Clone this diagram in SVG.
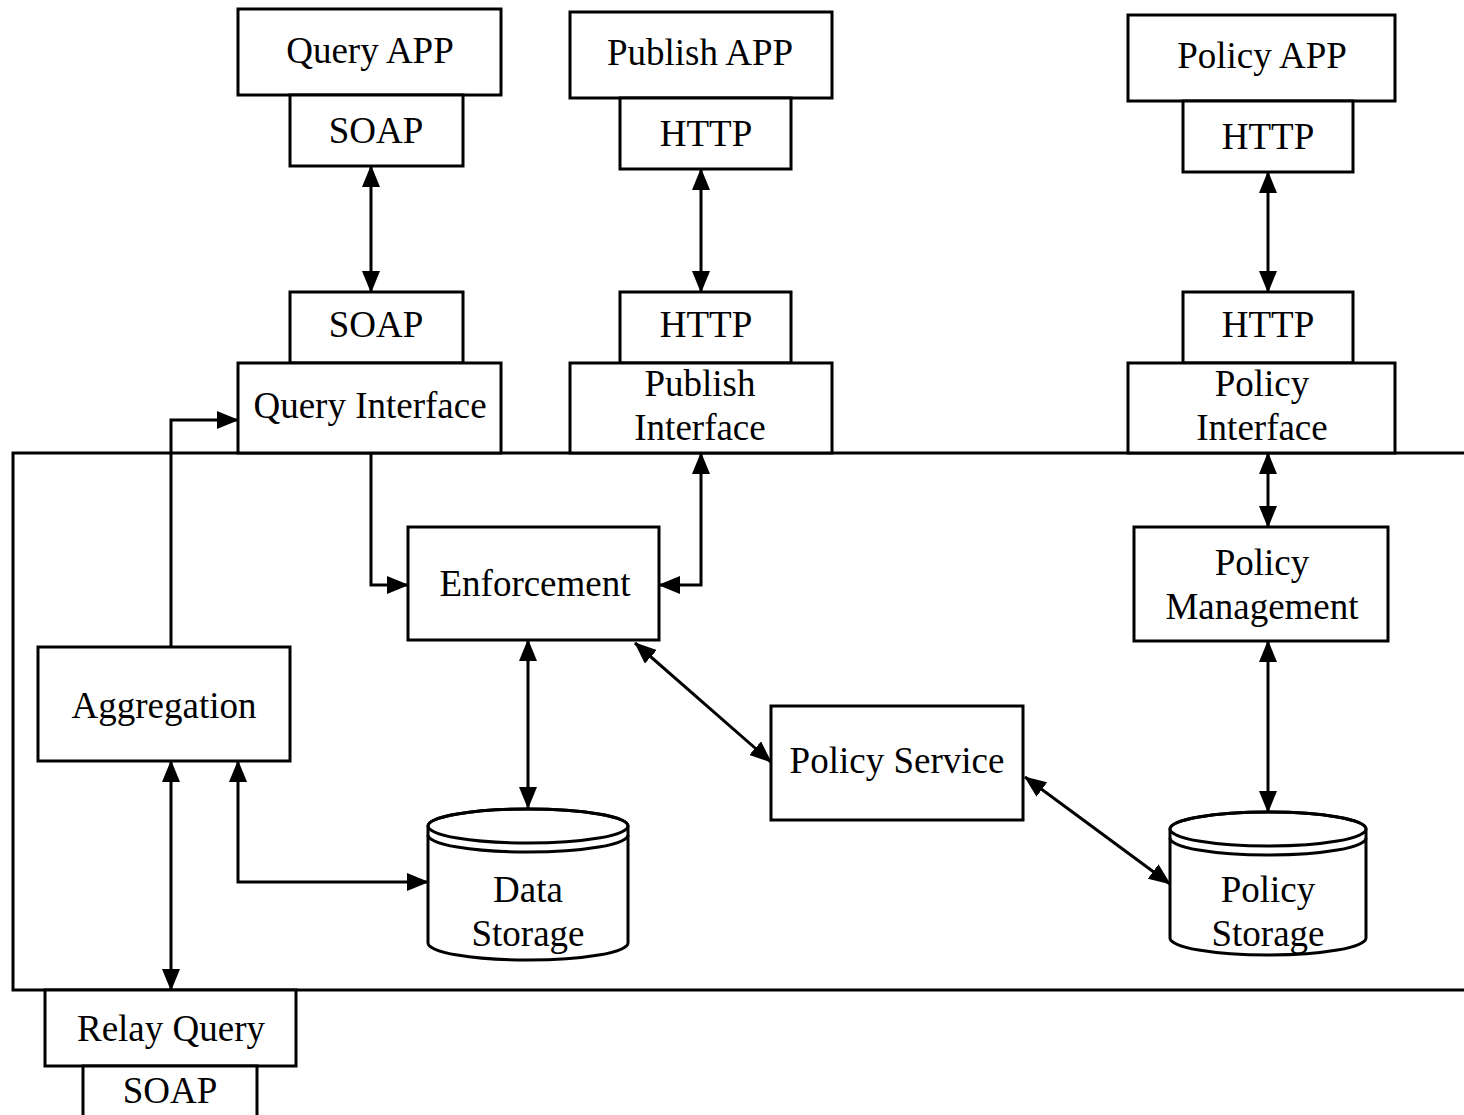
<svg xmlns="http://www.w3.org/2000/svg" width="1464" height="1115" viewBox="0 0 1464 1115">
<style>
.box{fill:#fff;stroke:#000;stroke-width:3}
.cyl{fill:#fff;stroke:#000;stroke-width:3}
.cl{fill:none;stroke:#000;stroke-width:3}
text{font-family:"Liberation Serif","Times New Roman",serif;font-size:37px;fill:#000;text-anchor:middle}
.con{fill:none;stroke:#000;stroke-width:3;marker-end:url(#ah)}
.bi{marker-start:url(#ah)}
</style>
<defs>
<marker id="ah" markerUnits="userSpaceOnUse" markerWidth="22" markerHeight="18" refX="21" refY="9" orient="auto-start-reverse" viewBox="0 0 22 18">
<path d="M0,0 L22,9 L0,18 z" fill="#000"/>
</marker>
</defs>
<rect width="1464" height="1115" fill="#fff"/>
<g id="frame"><path class="cl" d="M1466,453 H13 V990 H1466"/></g>
<g id="query-app"><rect class="box" x="238" y="9" width="263" height="86"/><text x="370" y="63">Query APP</text></g>
<g id="query-soap-top"><rect class="box" x="290" y="95" width="173" height="71"/><text x="376" y="143">SOAP</text></g>
<g id="publish-app"><rect class="box" x="570" y="12" width="262" height="86"/><text x="700" y="65">Publish APP</text></g>
<g id="publish-http-top"><rect class="box" x="620" y="98" width="171" height="71"/><text x="706" y="146">HTTP</text></g>
<g id="policy-app"><rect class="box" x="1128" y="15" width="267" height="86"/><text x="1262" y="68">Policy APP</text></g>
<g id="policy-http-top"><rect class="box" x="1183" y="101" width="170" height="71"/><text x="1268" y="149">HTTP</text></g>
<g id="query-soap"><rect class="box" x="290" y="292" width="173" height="71"/><text x="376" y="337">SOAP</text></g>
<g id="query-interface"><rect class="box" x="238" y="363" width="263" height="90"/><text x="370" y="418">Query Interface</text></g>
<g id="publish-http"><rect class="box" x="620" y="292" width="171" height="71"/><text x="706" y="337">HTTP</text></g>
<g id="publish-interface"><rect class="box" x="570" y="363" width="262" height="90"/><text x="700" y="396">Publish</text><text x="700" y="440">Interface</text></g>
<g id="policy-http"><rect class="box" x="1183" y="292" width="170" height="71"/><text x="1268" y="337">HTTP</text></g>
<g id="policy-interface"><rect class="box" x="1128" y="363" width="267" height="90"/><text x="1262" y="396">Policy</text><text x="1262" y="440">Interface</text></g>
<g id="enforcement"><rect class="box" x="408" y="527" width="251" height="113"/><text x="535" y="596">Enforcement</text></g>
<g id="policy-management"><rect class="box" x="1134" y="527" width="254" height="114"/><text x="1262" y="575">Policy</text><text x="1262" y="619">Management</text></g>
<g id="aggregation"><rect class="box" x="38" y="647" width="252" height="114"/><text x="164" y="718">Aggregation</text></g>
<g id="policy-service"><rect class="box" x="771" y="706" width="252" height="114"/><text x="897" y="773">Policy Service</text></g>
<g id="data-storage">
<path class="cyl" d="M428,826 V943 A100,17 0 0 0 628,943 V826 A100,17 0 0 0 428,826 z"/>
<ellipse class="cl" cx="528" cy="826" rx="100" ry="17"/>
<path class="cl" d="M428,835 A100,17 0 0 0 628,835"/>
<text x="528" y="902">Data</text><text x="528" y="946">Storage</text>
</g>
<g id="policy-storage">
<path class="cyl" d="M1170,829 V938 A98,17 0 0 0 1366,938 V829 A98,17 0 0 0 1170,829 z"/>
<ellipse class="cl" cx="1268" cy="829" rx="98" ry="17"/>
<path class="cl" d="M1170,838 A98,17 0 0 0 1366,838"/>
<text x="1268" y="902">Policy</text><text x="1268" y="946">Storage</text>
</g>
<g id="relay-query"><rect class="box" x="45" y="990" width="251" height="76"/><text x="171" y="1041">Relay Query</text></g>
<g id="relay-soap"><path class="box" d="M83,1118 V1066 H257 V1118"/><text x="170" y="1103">SOAP</text></g>
<g id="connectors">
<path class="con bi" d="M371,166 V292"/>
<path class="con bi" d="M701,169 V292"/>
<path class="con bi" d="M1268,172 V292"/>
<path class="con" d="M371,453 V585 H408"/>
<path class="con bi" d="M701,453 V585 H659"/>
<path class="con bi" d="M1268,453 V527"/>
<path class="con" d="M171,647 V420 H238"/>
<path class="con bi" d="M171,761 V990"/>
<path class="con bi" d="M238,761 V882 H428"/>
<path class="con bi" d="M528,640 V808"/>
<path class="con bi" d="M635,643 L771,762"/>
<path class="con bi" d="M1025,777 L1170,884"/>
<path class="con bi" d="M1268,641 V812"/>
</g>
</svg>
